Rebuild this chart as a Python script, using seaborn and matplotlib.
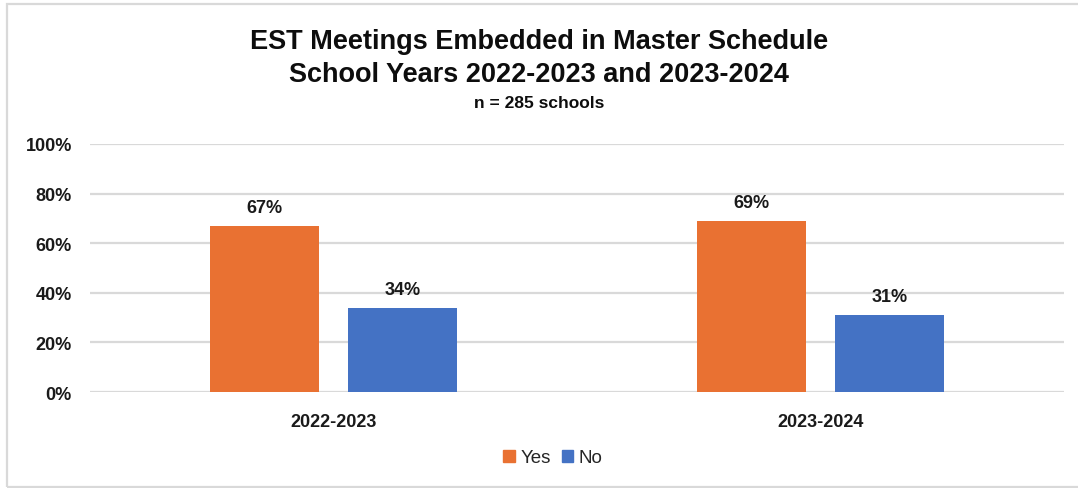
import matplotlib
matplotlib.use("Agg")
import matplotlib.pyplot as plt
from matplotlib.patches import Rectangle
import seaborn as sns
import pandas as pd

years = ["2022-2023", "2023-2024"]
responses = ["Yes", "No"]
yes_pct = [67, 69]
no_pct = [34, 31]
colors = {"Yes": "#E97132", "No": "#4472C4"}

df = pd.DataFrame({
    "year": years * 2,
    "response": ["Yes"] * len(years) + ["No"] * len(years),
    "pct": yes_pct + no_pct,
})

sns.set_theme(style="white")
plt.rcParams["font.family"] = ["Liberation Sans", "DejaVu Sans"]

fig = plt.figure(figsize=(10.78, 4.89), dpi=100)
ax = fig.add_axes([90 / 1078, 1 - 393 / 489, 974 / 1078, 248 / 489])

sns.barplot(data=df, x="year", y="pct", hue="response", hue_order=responses,
            palette=colors, width=0.567, gap=0.217, saturation=1, ax=ax,
            legend=False, edgecolor="none")

for cont in ax.containers:
    ax.bar_label(cont, labels=[f"{v:.0f}%" for v in cont.datavalues],
                 padding=7, fontsize=13, fontweight="bold", color="#1a1a1a")

ax.set_ylim(0, 100)
ax.set_yticks(range(0, 101, 20))
ax.set_yticklabels([f"{t}%" for t in range(0, 101, 20)],
                   fontsize=13, fontweight="bold", color="#1a1a1a")
ax.tick_params(axis="x", labelsize=13, pad=15, length=0)
ax.tick_params(axis="y", pad=13, length=0)
for lbl in ax.get_xticklabels():
    lbl.set_fontweight("bold")
    lbl.set_color("#1a1a1a")
ax.set_xlabel("")
ax.set_ylabel("")
ax.yaxis.grid(True, color="#d9d9d9", linewidth=1.6)
ax.set_axisbelow(True)
for s in ax.spines.values():
    s.set_visible(False)

# Legend
handles = [Rectangle((0, 0), 1, 1, color=colors[r]) for r in responses]
fig.legend(handles, responses, loc="center", bbox_to_anchor=(553 / 1078, 1 - 459 / 489),
           ncol=2, frameon=False, fontsize=13.5, handlelength=0.6, handleheight=0.6,
           handletextpad=0.3, columnspacing=0.6)

# Titles
fig.text(0.5, 1 - 42 / 489, "EST Meetings Embedded in Master Schedule", ha="center", va="center",
         fontsize=19.5, fontweight="bold", color="#0d0d0d")
fig.text(0.5, 1 - 75 / 489, "School Years 2022-2023 and 2023-2024", ha="center", va="center",
         fontsize=19.5, fontweight="bold", color="#0d0d0d")
fig.text(0.5, 1 - 104 / 489, "n = 285 schools", ha="center", va="center",
         fontsize=12.5, fontweight="bold", color="#0d0d0d")

# Frame around the chart
fig.patches.append(Rectangle((7 / 1078, 1 / 489), 1.2, 1 - 6 / 489, transform=fig.transFigure,
                             fill=False, edgecolor="#d9d9d9", linewidth=1.6))

fig.savefig("out.png", dpi=100)
